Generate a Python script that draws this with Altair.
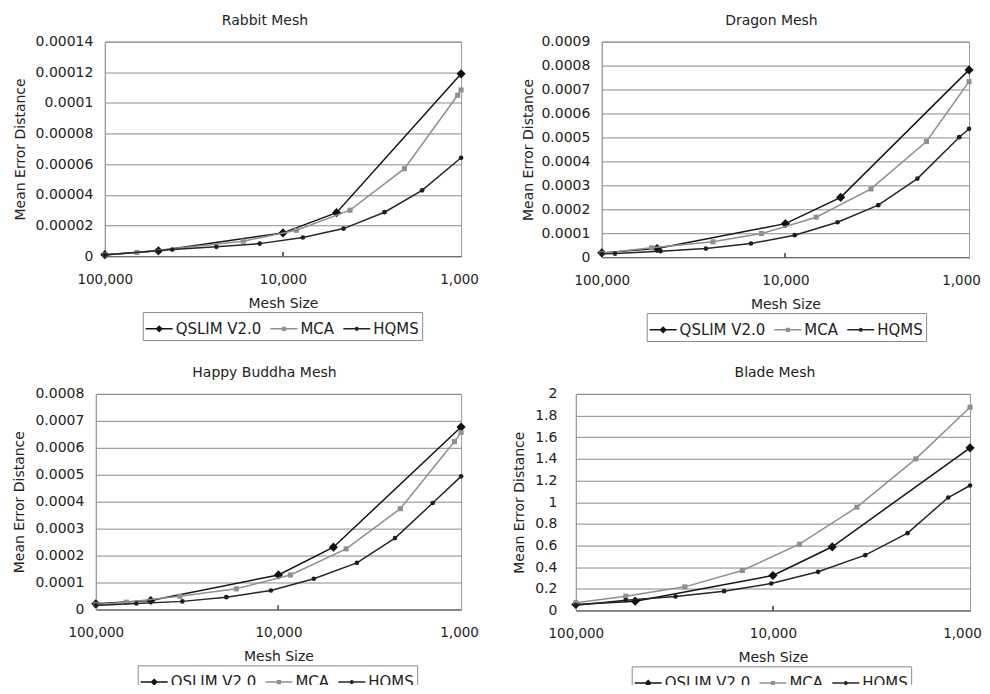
import altair as alt
import pandas as pd

SERIES = ["QSLIM V2.0", "MCA", "HQMS"]
LINE_COLORS = ["#151515", "#8f8f8f", "#262626"]

# ---------------- data ----------------
rabbit_qslim_x = [100000, 50000, 10000, 5000, 1000]
rabbit_qslim_y = [0.000001, 0.0000035, 0.0000152, 0.0000284, 0.000119]
rabbit_mca_x = [100000, 66000, 16700, 8400, 4200, 2080, 1045, 1000]
rabbit_mca_y = [0.000001, 0.0000024, 0.0000098, 0.0000169, 0.00003, 0.0000571, 0.000105, 0.0001085]
rabbit_hqms_x = [100000, 41800, 23650, 13500, 7730, 4570, 2690, 1655, 1000]
rabbit_hqms_y = [0.0000008, 0.0000043, 0.0000061, 0.0000082, 0.0000122, 0.000018, 0.0000287, 0.000043, 0.0000642]

dragon_qslim_x = [100000, 50000, 10000, 5000, 1000]
dragon_qslim_y = [0.000018, 0.000036, 0.00014, 0.00025, 0.000782]
dragon_mca_x = [100000, 53500, 24800, 13500, 6800, 3420, 1705, 1000]
dragon_mca_y = [0.000016, 0.000039, 0.000064, 0.0000986, 0.000167, 0.000285, 0.000483, 0.000733]
dragon_hqms_x = [100000, 84700, 47900, 27100, 15400, 8900, 5200, 3120, 1910, 1130, 1000]
dragon_hqms_y = [0.000014, 0.000015, 0.000025, 0.000036, 0.000057, 0.000092, 0.000146, 0.000217, 0.000328, 0.000501, 0.000536]

buddha_qslim_x = [100000, 50000, 10000, 5000, 1000]
buddha_qslim_y = [0.000021, 0.0000333, 0.000128, 0.000231, 0.000677]
buddha_mca_x = [100000, 68000, 34700, 17000, 8600, 4260, 2150, 1087, 1000]
buddha_mca_y = [0.000018, 0.000027, 0.000049, 0.0000765, 0.000128, 0.000225, 0.000374, 0.000623, 0.000657]
buddha_hqms_x = [100000, 60000, 33600, 19300, 11000, 6400, 3720, 2300, 1430, 1000]
buddha_hqms_y = [0.000015, 0.000022, 0.00003, 0.0000457, 0.0000704, 0.000114, 0.000173, 0.000265, 0.000395, 0.000494]

blade_qslim_x = [100000, 50000, 10000, 5000, 1000]
blade_qslim_y = [0.055, 0.086, 0.323, 0.588, 1.502]
blade_mca_x = [100000, 55800, 28000, 14300, 7340, 3750, 1885, 1000]
blade_mca_y = [0.071, 0.132, 0.218, 0.369, 0.612, 0.954, 1.40, 1.877]
blade_hqms_x = [100000, 55800, 31200, 17700, 10200, 5900, 3400, 2075, 1290, 1000]
blade_hqms_y = [0.049, 0.095, 0.129, 0.178, 0.249, 0.357, 0.511, 0.714, 1.043, 1.154]

rabbit_ticks = [0, 0.00002, 0.00004, 0.00006, 0.00008, 0.0001, 0.00012, 0.00014]
dragon_ticks = [0, 0.0001, 0.0002, 0.0003, 0.0004, 0.0005, 0.0006, 0.0007, 0.0008, 0.0009]
buddha_ticks = [0, 0.0001, 0.0002, 0.0003, 0.0004, 0.0005, 0.0006, 0.0007, 0.0008]
blade_ticks = [0, 0.2, 0.4, 0.6, 0.8, 1, 1.2, 1.4, 1.6, 1.8, 2]
x_ticks = [100000, 10000, 1000]

# ---------------- styling ----------------
FONT = "DejaVu Sans"
POINT_STYLE = {
    "QSLIM V2.0": dict(shape="diamond", size=85, color="#111111"),
    "MCA": dict(shape="square", size=26, color="#8f8f8f"),
    "HQMS": dict(shape="circle", size=22, color="#1e1e1e"),
}
# legend symbols: a short line with the marker on it
LEGEND_PATHS = [
    "M-1,-0.055H1V0.055H-1Z M0,-0.27L0.27,0L0,0.27L-0.27,0Z",
    "M-1,-0.055H1V0.055H-1Z M-0.16,-0.16H0.16V0.16H-0.16Z",
    "M-1,-0.055H1V0.055H-1Z M0,-0.16L0.11,-0.11L0.16,0L0.11,0.11L0,0.16L-0.11,0.11L-0.16,0L-0.11,-0.11Z",
]


def make_panel(title, series_data, yticks, width, height, title_dx, legend_x, last_shift,
               y_label_pad=12, y_title_pad=8):
    rows = []
    for name, (xs, ys) in zip(SERIES, series_data):
        for x, y in zip(xs, ys):
            rows.append({"series": name, "size": x, "err": y})
    df = pd.DataFrame(rows)
    base = alt.Chart(df)

    xenc = alt.X(
        "size:Q",
        scale=alt.Scale(type="log", domain=[1000, 100000], reverse=True, nice=False),
        axis=alt.Axis(values=x_ticks, format=",", title="Mesh Size", grid=False, ticks=False,
                      labelPadding=16, titlePadding=11, domainColor="#666", labelFlush=False,
                      labelFontSize=13.5,
                      labelOffset={"condition": {"test": "datum.value == 1000", "value": last_shift},
                                   "value": 0}),
    )
    yenc = alt.Y(
        "err:Q",
        scale=alt.Scale(domain=[0, yticks[-1]], nice=False),
        axis=alt.Axis(values=yticks, format="~g", title="Mean Error Distance", ticks=False,
                      labelPadding=y_label_pad, titlePadding=y_title_pad, gridColor="#8a8a8a",
                      domainColor="#999"),
    )

    layers = []
    for name, lc in zip(SERIES, LINE_COLORS):
        sub = base.transform_filter(alt.datum.series == name)
        layers.append(sub.mark_line(color=lc, strokeWidth=1.5).encode(x=xenc, y=yenc))
        st = POINT_STYLE[name]
        layers.append(
            sub.mark_point(shape=st["shape"], size=st["size"], color=st["color"],
                           filled=True, opacity=1).encode(x=xenc, y=yenc)
        )

    tick = base.mark_rule(color="#666").encode(
        x=alt.datum(10000), y=alt.value(height), y2=alt.value(height - 4)
    )

    leg = dict(title=None, orient="none", legendX=legend_x, legendY=height + 56)
    legend_layer = base.transform_filter("false").mark_point(filled=True, opacity=1).encode(
        color=alt.Color("series:N", scale=alt.Scale(domain=SERIES, range=LINE_COLORS),
                        legend=alt.Legend(**leg)),
        shape=alt.Shape("series:N", scale=alt.Scale(domain=SERIES, range=LEGEND_PATHS),
                        legend=alt.Legend(**leg)),
    )

    return alt.layer(*layers, tick, legend_layer).properties(
        width=width, height=height,
        title=alt.TitleParams(text=title, fontSize=14, fontWeight="normal", font=FONT,
                              color="#222", offset=7, dx=title_dx, anchor="middle"),
    )


def spacer():
    # an empty, invisible cell so that panels in the first visible column pack by their bounds
    return alt.Chart(pd.DataFrame({"v": [0]})).transform_filter("false").mark_point().encode(
        x=alt.value(0), y=alt.value(0)
    ).properties(width=1, height=1, view=alt.ViewBackground(stroke="transparent"))


rabbit = make_panel("Rabbit Mesh",
                    [(rabbit_qslim_x, rabbit_qslim_y), (rabbit_mca_x, rabbit_mca_y), (rabbit_hqms_x, rabbit_hqms_y)],
                    rabbit_ticks, 357, 215, -18, 38, -2)
dragon = make_panel("Dragon Mesh",
                    [(dragon_qslim_x, dragon_qslim_y), (dragon_mca_x, dragon_mca_y), (dragon_hqms_x, dragon_hqms_y)],
                    dragon_ticks, 368, 216, -14, 45, -8, y_title_pad=5)
buddha = make_panel("Happy Buddha Mesh",
                    [(buddha_qslim_x, buddha_qslim_y), (buddha_mca_x, buddha_mca_y), (buddha_hqms_x, buddha_hqms_y)],
                    buddha_ticks, 366, 216, -14, 42, -2)
blade = make_panel("Blade Mesh",
                   [(blade_qslim_x, blade_qslim_y), (blade_mca_x, blade_mca_y), (blade_hqms_x, blade_hqms_y)],
                   blade_ticks, 395, 217, 2, 56, -8, y_label_pad=19)

chart = alt.concat(
    spacer(), rabbit, dragon, spacer(), buddha, blade, columns=3,
    spacing={"row": 23, "column": 33}, align="none", bounds="full",
).resolve_scale(
    color="independent", shape="independent"
).properties(
    padding={"left": -32, "top": 4, "right": 0, "bottom": -11}
).configure_view(
    stroke="#9a9a9a", strokeWidth=1
).configure_axis(
    labelFont=FONT, titleFont=FONT, labelFontSize=14, titleFontSize=14,
    titleFontWeight="normal", labelColor="#222", titleColor="#222",
).configure_legend(
    direction="horizontal", labelFont=FONT, labelFontSize=15, labelColor="#222",
    symbolSize=729, symbolStrokeWidth=0, strokeColor="#8a8a8a", padding=3, columnPadding=9,
    labelOffset=3, labelLimit=300, symbolOpacity=1,
).configure_title(font=FONT)

chart.save("out.html", embed_options={"renderer": "svg", "actions": False})
